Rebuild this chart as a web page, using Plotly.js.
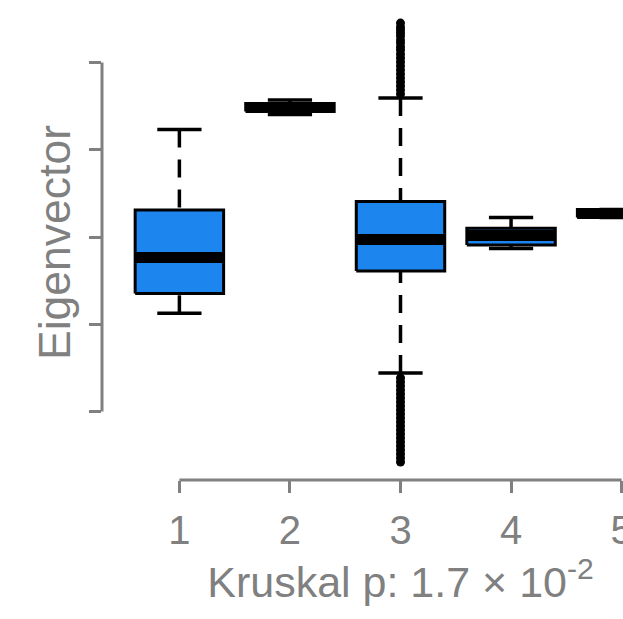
<!DOCTYPE html>
<html>
<head>
<meta charset="utf-8">
<script src="https://cdn.plot.ly/plotly-3.0.1.min.js"></script>
<style>
html, body { margin: 0; padding: 0; overflow: hidden; background: #fff; }
#chart { width: 760px; height: 619px; }
</style>
</head>
<body>
<div id="chart"></div>
<script>
// ---- data ----
const categories = ["1", "2", "3", "4", "5"];
const groupPos = [1, 2, 3, 4, 5];
const lowerWhisker = [-0.874, 1.404, -1.559, -0.132, 0.2235];
const lowerQuartile = [-0.648, 1.438, -0.390, -0.092, 0.2235];
const medians = [-0.235, 1.484, -0.029, 0.017, 0.269];
const upperQuartile = [0.309, 1.530, 0.407, 0.101, 0.315];
const upperWhisker = [1.234, 1.570, 1.593, 0.2235, 0.315];

// outliers (group 3 only visible)
const outlierGroup = [3,3,3,3,3,3,3,3,3,3,3,3,3,3,3,3,3,3,3,3,
                      3,3,3,3,3,3,3,3,3,3,3,3,3,3,3,3,3,3,3,3,3,3];
const outlierValue = [2.453, 2.407, 2.372, 2.338, 2.304, 2.258, 2.223, 2.178, 2.143, 2.097,
                      2.052, 2.006, 1.960, 1.914, 1.868, 1.822, 1.777, 1.731, 1.685, 1.639,
                      -1.616, -1.662, -1.708, -1.754, -1.799, -1.845, -1.891, -1.937, -1.983, -2.029,
                      -2.074, -2.120, -2.166, -2.212, -2.258, -2.304, -2.350, -2.395, -2.441, -2.487,
                      -2.533, -2.579];

const yTickVals = [-2, -1, 0, 1, 2];
const xTitle = "Kruskal p: 1.7 \u00d7 10<sup>-2</sup>";
const yTitle = "Eigenvector";

// ---- build traces ----
const boxHalf = 0.4, capHalf = 0.2;
const fillBlue = "#1C86EE";
const grey = "#808080";

const bx = [], by = [], wx = [], wy = [], cx = [], cy = [], mx = [], my = [];
groupPos.forEach((g, i) => {
  bx.push(g - boxHalf, g + boxHalf, g + boxHalf, g - boxHalf, g - boxHalf, null);
  by.push(lowerQuartile[i], lowerQuartile[i], upperQuartile[i], upperQuartile[i], lowerQuartile[i], null);
  wx.push(g, g, null, g, g, null);
  wy.push(upperWhisker[i], upperQuartile[i], null, lowerWhisker[i], lowerQuartile[i], null);
  cx.push(g - capHalf, g + capHalf, null, g - capHalf, g + capHalf, null);
  cy.push(upperWhisker[i], upperWhisker[i], null, lowerWhisker[i], lowerWhisker[i], null);
  mx.push(g - boxHalf, g + boxHalf, null);
  my.push(medians[i], medians[i], null);
});

const traces = [
  { x: wx, y: wy, mode: "lines", line: { color: "#000", width: 3.5, dash: "18px,12px" }, hoverinfo: "skip", showlegend: false },
  { x: cx, y: cy, mode: "lines", line: { color: "#000", width: 3.5 }, hoverinfo: "skip", showlegend: false },
  { x: bx, y: by, mode: "lines", fill: "toself", fillcolor: fillBlue, line: { color: "#000", width: 3 }, hoverinfo: "skip", showlegend: false },
  { x: mx, y: my, mode: "lines", line: { color: "#000", width: 11 }, hoverinfo: "skip", showlegend: false },
  { x: outlierGroup, y: outlierValue, mode: "markers", marker: { color: "#000", size: 9 }, hoverinfo: "skip", showlegend: false, cliponaxis: false }
];

const fontFam = "Liberation Sans, Arial, sans-serif";

const layout = {
  width: 760, height: 619,
  margin: { l: 102, r: 61, t: 5, b: 139 },
  paper_bgcolor: "#fff", plot_bgcolor: "#fff",
  showlegend: false,
  xaxis: {
    range: [0.3, 5.7], showgrid: false, zeroline: false, showline: false,
    tickmode: "array", tickvals: groupPos, ticktext: categories,
    ticks: "outside", ticklen: 12, tickwidth: 3, tickcolor: grey,
    ticklabelstandoff: 3,
    tickfont: { family: fontFam, size: 40, color: grey },
    title: { text: xTitle, font: { family: fontFam, size: 43, color: grey }, standoff: 14 },
    automargin: false
  },
  yaxis: {
    range: [-2.785, 2.66], showgrid: false, zeroline: false, showline: false,
    tickmode: "array", tickvals: yTickVals, showticklabels: false,
    ticks: "outside", ticklen: 12, tickwidth: 3, tickcolor: grey,
    title: { text: yTitle, font: { family: fontFam, size: 44.5, color: grey }, standoff: 4 },
    automargin: false
  },
  shapes: [
    { type: "line", xref: "x", yref: "paper", x0: groupPos[0], x1: groupPos[groupPos.length - 1], y0: 0, y1: 0,
      line: { color: grey, width: 3 }, layer: "above" },
    { type: "line", xref: "paper", yref: "y", x0: 0, x1: 0, y0: yTickVals[0], y1: yTickVals[yTickVals.length - 1],
      line: { color: grey, width: 3 }, layer: "above" }
  ]
};

Plotly.newPlot("chart", traces, layout, { staticPlot: true, displayModeBar: false });
</script>
</body>
</html>
